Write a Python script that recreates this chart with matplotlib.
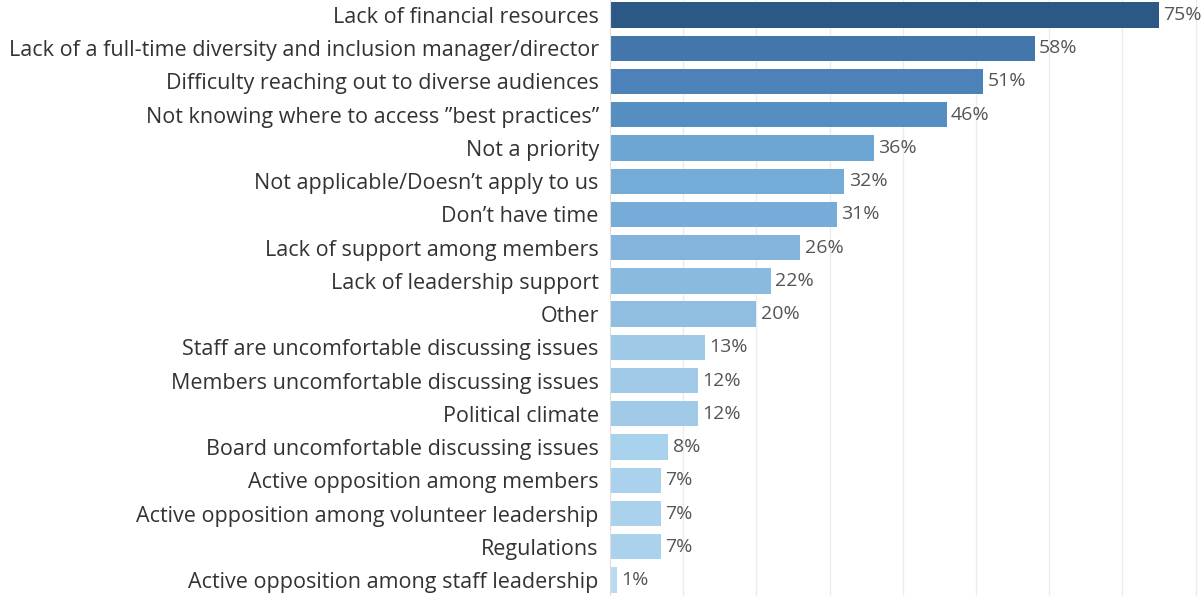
import matplotlib
matplotlib.use("Agg")
import matplotlib.pyplot as plt
from matplotlib.colors import LinearSegmentedColormap
import numpy as np

categories = [
    "Lack of financial resources",
    "Lack of a full-time diversity and inclusion manager/director",
    "Difficulty reaching out to diverse audiences",
    "Not knowing where to access \u201dbest practices\u201d",
    "Not a priority",
    "Not applicable/Doesn\u2019t apply to us",
    "Don\u2019t have time",
    "Lack of support among members",
    "Lack of leadership support",
    "Other",
    "Staff are uncomfortable discussing issues",
    "Members uncomfortable discussing issues",
    "Political climate",
    "Board uncomfortable discussing issues",
    "Active opposition among members",
    "Active opposition among volunteer leadership",
    "Regulations",
    "Active opposition among staff leadership",
]
values = [75, 58, 51, 46, 36, 32, 31, 26, 22, 20, 13, 12, 12, 8, 7, 7, 7, 1]

plt.rcParams['font.family'] = ['Open Sans', 'DejaVu Sans']

fig = plt.figure(figsize=(12.03, 5.96), dpi=100)
ax = fig.add_axes([0.507, 0.0, 0.493, 1.0])

cmap = LinearSegmentedColormap.from_list(
    "tb", [(0.0, "#b9ddf2"), (0.5, "#6aa2d2"), (0.7, "#4a7fb6"), (1.0, "#2c5886")])
y = np.arange(len(categories))
colors = [cmap(v / 75) for v in values]
ax.barh(y, values, height=0.76, color=colors, zorder=2)

for yi, v in zip(y, values):
    ax.text(v + 0.6, yi, f"{v}%", va="center", ha="left", fontsize=14, color="#555555", zorder=3)

ax.set_xlim(0, 81)
ax.set_ylim(17.48, -0.45)
ax.set_yticks(y)
ax.set_yticklabels(categories, fontsize=15.5, color="#333333")
ax.tick_params(axis="y", length=0, pad=8)
ax.set_xticks(np.arange(10, 81, 10))
ax.tick_params(axis="x", length=0, labelbottom=False)
ax.grid(axis="x", color="#ececec", linewidth=1, zorder=0)
for s in ["top", "right", "bottom"]:
    ax.spines[s].set_visible(False)
ax.spines["left"].set_color("#dddddd")

fig.savefig("out.png", dpi=100)
